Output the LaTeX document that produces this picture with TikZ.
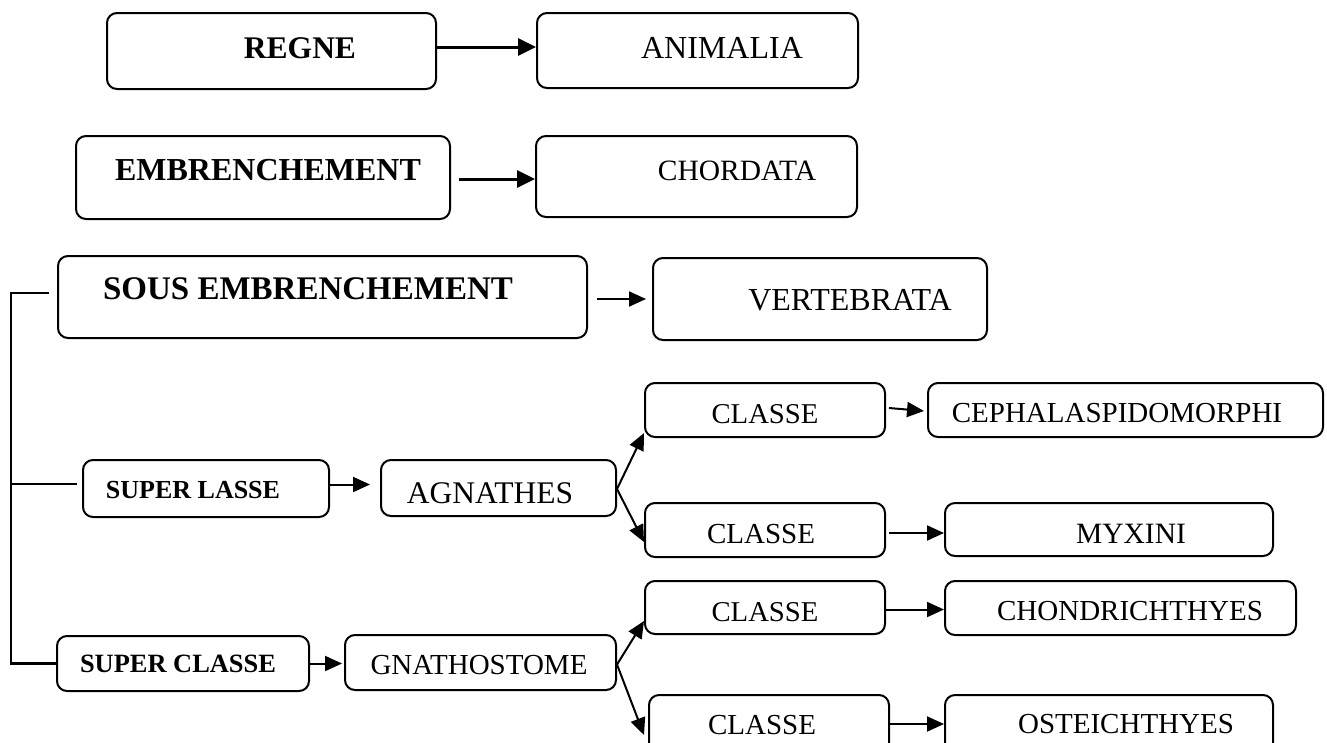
\documentclass[tikz,border=0pt]{standalone}
\usepackage{fontspec}
\setmainfont{Liberation Serif}
\usetikzlibrary{arrows.meta}
\tikzset{
  box/.style={draw, line width=2pt, rounded corners=10pt, inner sep=0pt, fill=white},
  lbl/.style={anchor=base, inner sep=0pt},
  arr/.style={line width=2pt, -{Triangle[length=17pt,width=15pt]}},
  bigarr/.style={line width=3pt, -{Triangle[length=18pt,width=17pt]}},
  bline/.style={line width=2.4pt},
  tline/.style={line width=1.6pt}
}
\newcommand\bx[5]{%
  \pgfmathsetmacro\bxw{#4-#2}\pgfmathsetmacro\bxh{#5-#3}%
  \pgfmathsetmacro\bxx{(#2+#4)/2}\pgfmathsetmacro\bxy{(#3+#5)/2}%
  \node[box, minimum width=\bxw pt, minimum height=\bxh pt] (#1) at (\bxx,\bxy) {};}
\newcommand\tx[5]{\node[lbl] (#1) at (#2,#3) {\fontsize{#4}{#4}\selectfont #5};}
\begin{document}
\begin{tikzpicture}[x=1pt,y=-1pt]
\useasboundingbox (0,0) rectangle (1327,742);
\clip (0,0) rectangle (1327,742);
% boxes
\bx{regne}{107}{13}{436}{89}
\bx{animalia}{537}{13}{858}{88}
\bx{embr}{76}{136}{450}{219}
\bx{chordata}{536}{136}{857}{217}
\bx{sous}{58}{256}{587}{338}
\bx{vert}{653}{258}{987}{340}
\bx{slasse}{83}{460}{329}{517}
\bx{agn}{381}{460}{616}{516}
\bx{cla}{645}{383}{885}{437}
\bx{ceph}{928}{383}{1323}{437}
\bx{clb}{645}{503}{885}{557}
\bx{myx}{945}{503}{1273}{556}
\bx{clc}{645}{581}{885}{634}
\bx{chon}{945}{581}{1296}{635}
\bx{sclasse}{57}{636}{309}{691}
\bx{gna}{345}{635}{616}{690}
\bx{cld}{649}{695}{889}{753}
\bx{ost}{945}{695}{1273}{753}
% texts
\tx{regne-t}{300}{58}{31.5}{\bfseries REGNE}
\tx{animalia-t}{722}{58}{32}{ANIMALIA}
\tx{embr-t}{268}{180}{32}{\bfseries EMBRENCHEMENT}
\tx{chordata-t}{737}{180}{29.5}{CHORDATA}
\tx{sous-t}{308}{299}{33}{\bfseries SOUS EMBRENCHEMENT}
\tx{vert-t}{850}{310}{32}{VERTEBRATA}
\tx{slasse-t}{193}{498}{26}{\bfseries SUPER LASSE}
\tx{agn-t}{490}{503}{31.5}{AGNATHES}
\tx{cla-t}{765}{423}{28.7}{CLASSE}
\tx{ceph-t}{1117}{422}{29}{CEPHALASPIDOMORPHI}
\tx{clb-t}{761}{543}{29}{CLASSE}
\tx{myx-t}{1131}{543}{29.5}{MYXINI}
\tx{clc-t}{765}{621}{28.7}{CLASSE}
\tx{chon-t}{1130}{620}{29}{CHONDRICHTHYES}
\tx{sclasse-t}{178}{672}{26.4}{\bfseries SUPER CLASSE}
\tx{gna-t}{479}{674}{29}{GNATHOSTOME}
\tx{cld-t}{762}{734}{29}{CLASSE}
\tx{ost-t}{1126}{733}{29}{OSTEICHTHYES}
% arrows
\draw[bigarr] ([yshift=4pt]regne.east) -- ([yshift=4pt]regne.east -| animalia.west);
\draw[bigarr] ([xshift=8pt,yshift=-1.5pt]embr.east) -- ([yshift=-1.5pt]embr.east -| chordata.west);
\draw[arr] ([xshift=9pt]sous.east |- vert.west) -- ([xshift=-6pt]vert.west);
\draw[arr] ([yshift=4pt]slasse.east) -- ([xshift=-10pt,yshift=4pt]slasse.east -| agn.west);
\draw[arr] ([yshift=-1pt]agn.east) -- ([yshift=5pt]cla.south west);
\draw[arr] ([yshift=-1pt]agn.east) -- ([yshift=-12pt]clb.west);
\draw[arr] ([xshift=3pt,yshift=2pt]cla.east) -- ([xshift=-3pt,yshift=-1pt]ceph.west);
\draw[arr] ([xshift=3pt,yshift=-3pt]clb.east) -- ([yshift=-3pt]clb.east -| myx.west);
\draw[arr] (sclasse.east) -- ([xshift=-2pt]sclasse.east -| gna.west);
\draw[arr] ([yshift=-2pt]gna.east) -- ([yshift=14pt]clc.south west);
\draw[arr] ([yshift=-2pt]gna.east) -- ([xshift=-4pt,yshift=-11pt]cld.west);
\draw[arr] ([yshift=-2pt]clc.east) -- ([yshift=-2pt]clc.east -| chon.west);
\draw[arr] (cld.east) -- (cld.east -| ost.west);
% bracket
\coordinate (trunk) at (11,293);
\draw[bline] ([xshift=-8pt,yshift=4pt]sous.west) -- (trunk) |- (sclasse.west);
\draw[tline] ([xshift=-5pt,yshift=4.5pt]slasse.west) -- ++(-67,0);
\end{tikzpicture}
\end{document}
